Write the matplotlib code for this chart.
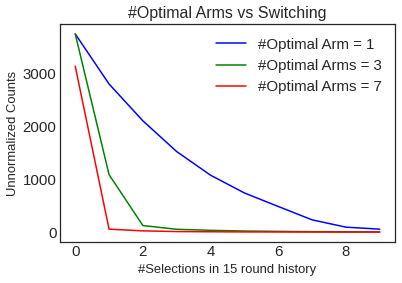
import numpy as np
import matplotlib
matplotlib.use("Agg")
import matplotlib.pyplot as plt

# counts per number of selections of the optimal arm
selections = list(range(10))
arm1_counts = [3740, 2795, 2100, 1520, 1075, 740, 485, 233, 95, 57]
arm3_counts = [3740, 1085, 125, 55, 35, 22, 15, 10, 8, 6]
arm7_counts = [3130, 57, 25, 12, 8, 5, 4, 3, 2, 2]

plt.style.use("seaborn-v0_8-white")
plt.rcParams['font.family'] = ['Liberation Sans', 'DejaVu Sans']

fig = plt.figure(figsize=(402 / 72, 283 / 72), dpi=72)
ax = fig.add_axes([60 / 402, 1 - 242 / 283, 335 / 402, 218 / 283])

ax.plot(selections, arm1_counts, color='blue', label='#Optimal Arm = 1')
ax.plot(selections, arm3_counts, color='green', label='#Optimal Arms = 3')
ax.plot(selections, arm7_counts, color='red', label='#Optimal Arms = 7')

ax.set_title('#Optimal Arms vs Switching', fontsize=16, color='#262626')
ax.set_xlabel('#Selections in 15 round history', fontsize=13, color='#262626')
ax.set_ylabel('Unnormalized Counts', fontsize=13, color='#262626')
ax.set_xticks([0, 2, 4, 6, 8])
ax.set_yticks([0, 1000, 2000, 3000])
ax.tick_params(labelsize=15, colors='#262626')
for s in ax.spines.values():
    s.set_color('#262626')
ax.legend(fontsize=15, loc='upper right')

fig.savefig('out.png', dpi=72)
